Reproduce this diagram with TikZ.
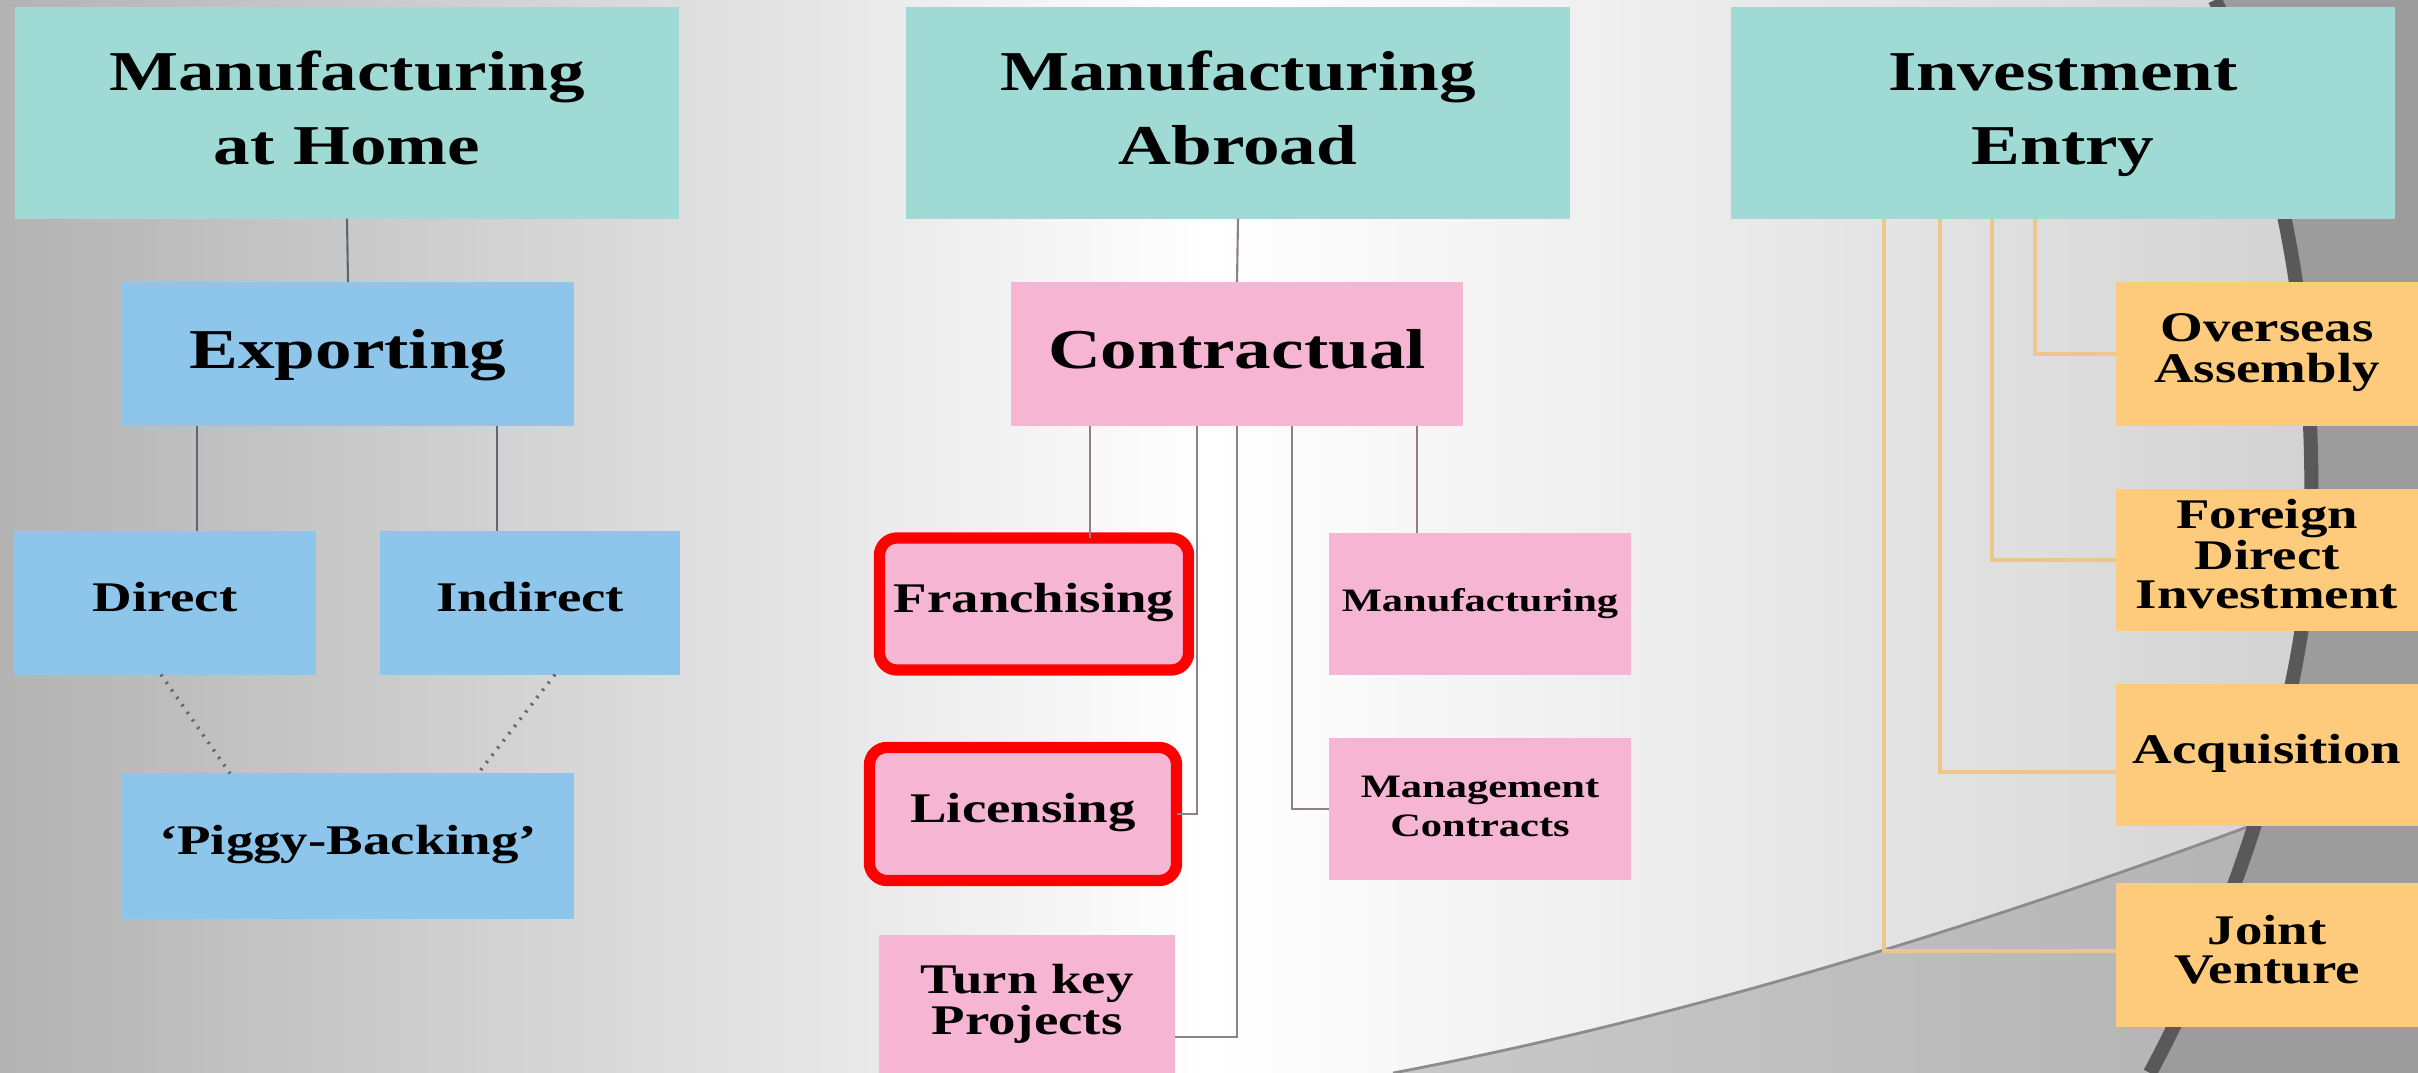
\documentclass[tikz,border=0pt]{standalone}
\usepackage{fontspec}
\setmainfont{Liberation Serif}
\usepackage{graphicx}
\usetikzlibrary{calc}
\definecolor{headc}{HTML}{A0DAD4}
\definecolor{bluec}{HTML}{8DC5EB}
\definecolor{pinkc}{HTML}{F5B5D3}
\definecolor{orc}{HTML}{FDCB7B}
\definecolor{linkl}{HTML}{5C6770}
\definecolor{linkp}{HTML}{8E8088}
\definecolor{linko}{HTML}{ECC68A}
\newcommand{\wtxt}[1]{\scalebox{1.3}[1]{\begin{tabular}{@{}c@{}}#1\end{tabular}}}

\begin{document}
\begin{tikzpicture}[x=0.01cm,y=-0.01cm,
    box/.style={inner sep=0pt,outer sep=0pt,text=black},
    head/.style={box,fill=headc,minimum width=6.63cm,minimum height=2.11cm,font=\fontsize{16}{21}\selectfont\bfseries},
    big/.style={box,minimum width=4.51cm,minimum height=1.44cm,font=\fontsize{16}{21}\selectfont\bfseries},
    mid/.style={box,minimum width=3.0cm,minimum height=1.43cm,font=\fontsize{12}{11}\selectfont\bfseries},
    small/.style={box,minimum width=3.01cm,minimum height=1.42cm,font=\fontsize{9.3}{11}\selectfont\bfseries},
    bluebox/.style={fill=bluec},
    pinkbox/.style={fill=pinkc},
    orbox/.style={fill=orc},
    marked/.style={draw=red,line width=3.2pt,rounded corners=5pt},
    link/.style={line width=0.6pt}]
    \useasboundingbox(0,0)rectangle(2418,1073);
    \clip(0,0)rectangle(2418,1073);
    \shade[left color=gray!60,right color=gray!38,middle color=white](0,0)rectangle(2418,1073);
    \shade[left color=gray!42,right color=gray!62](1393,1073)..controls(1678,1019)and(1965,931)..(2250,826)--(2418,780)--(2418,1073)--cycle;
    \draw[color=gray!110!black,line width=0.8pt](1393,1073)..controls(1678,1019)and(1965,931)..(2250,826);
    \fill[gray!78](2215,0)..controls(2300,180)and(2330,450)..(2300,640)..controls(2270,820)and(2200,980)..(2150,1073)--(2418,1073)--(2418,0)--cycle;
    \draw[color=gray!70!black,line width=4pt](2215,0)..controls(2300,180)and(2330,450)..(2300,640)..controls(2270,820)and(2200,980)..(2150,1073);

    \node[head](home)at(347,113){\wtxt{Manufacturing\\at Home}};
    \node[head](abroad)at(1238,113){\wtxt{Manufacturing\\Abroad}};
    \node[head](invest)at(2063,113){\wtxt{Investment\\Entry}};

    \node[big,bluebox](export)at(348,354){\wtxt{Exporting}};
    \node[mid,bluebox,minimum width=3.01cm](direct)at(165,603){\wtxt{Direct}};
    \node[mid,bluebox,minimum width=2.99cm](indirect)at(530,603){\wtxt{Indirect}};
    \node[mid,bluebox,minimum width=4.51cm,minimum height=1.45cm](piggy)at(348,846){\wtxt{‘Piggy-Backing’}};

    \node[big,pinkbox](contract)at(1237,354){\wtxt{Contractual}};
    \node[mid,pinkbox,marked,minimum width=3.09cm,minimum height=1.32cm](franch)at(1034,604){\wtxt{Franchising}};
    \node[mid,pinkbox,marked,minimum width=3.07cm,minimum height=1.33cm](licens)at(1023,814){\wtxt{Licensing}};
    \node[mid,pinkbox,minimum width=2.96cm,minimum height=1.4cm](turnkey)at(1027,1005){\wtxt{Turn key\\Projects}};
    \node[small,pinkbox](manuf)at(1480,604){\wtxt{Manufacturing}};
    \node[small,pinkbox](mgmt)at(1480,809){\wtxt{Management\\Contracts}};

    \node[mid,orbox,minimum width=3.02cm,minimum height=1.44cm](overseas)at(2267,354){\wtxt{Overseas\\Assembly}};
    \node[mid,orbox,minimum width=3.02cm,minimum height=1.42cm](fdi)at(2267,560){\wtxt{Foreign\\Direct\\Investment}};
    \node[mid,orbox,minimum width=3.02cm,minimum height=1.41cm](acq)at(2267,755){\wtxt{Acquisition}};
    \node[mid,orbox,minimum width=3.02cm,minimum height=1.44cm](jv)at(2267,955){\wtxt{Joint\\Venture}};

    \draw[link,linkl](home.south)--(export.north);
    \draw[link,linkl]($(export.south)+(-151,0)$)--($(direct.north)+(32,0)$);
    \draw[link,linkl]($(export.south)+(149,0)$)--($(indirect.north)+(-33,0)$);
    \draw[link,linkl,dotted,line width=1pt]($(direct.south)+(-4,0)$)--($(piggy.north)+(-118,0)$);
    \draw[link,linkl,dotted,line width=1pt]($(indirect.south)+(25,0)$)--($(piggy.north)+(130,0)$);

    \draw[link,linkp](abroad.south)--(contract.north);
    \draw[link,linkp]($(contract.south)+(-147,0)$)--($(franch.north)+(56,0)$);
    \draw[link,linkp]($(contract.south)+(-40,0)$)|-(licens.east);
    \draw[link,linkp](contract.south)|-($(turnkey.east)+(0,32)$);
    \draw[link,linkp]($(contract.south)+(55,0)$)|-(mgmt.west);
    \draw[link,linkp]($(contract.south)+(180,0)$)--($(manuf.north)+(-63,0)$);

    \draw[link,linko,line width=0.9pt]($(invest.south)+(-28,0)$)|-(overseas.west);
    \draw[link,linko,line width=0.9pt]($(invest.south)+(-71,0)$)|-(fdi.west);
    \draw[link,linko,line width=0.9pt]($(invest.south)+(-123,0)$)|-($(acq.west)+(0,17)$);
    \draw[link,linko,line width=0.9pt]($(invest.south)+(-179,0)$)|-($(jv.west)+(0,-4)$);
\end{tikzpicture}
\end{document}
